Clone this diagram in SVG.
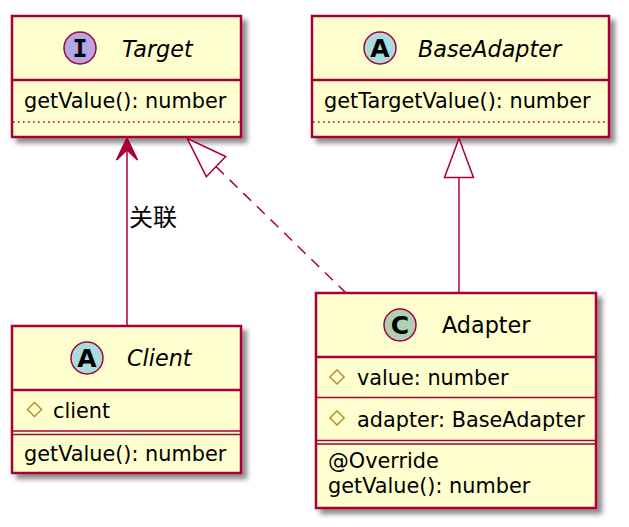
<svg xmlns="http://www.w3.org/2000/svg" width="629" height="527" viewBox="0 0 629 527">
<defs>
<filter id="sh" x="-10%" y="-10%" width="130%" height="130%">
<feGaussianBlur in="SourceAlpha" stdDeviation="2.5"/>
<feOffset dx="5" dy="5" result="b"/>
<feComponentTransfer><feFuncA type="linear" slope="0.45"/></feComponentTransfer>
<feMerge><feMergeNode/><feMergeNode in="SourceGraphic"/></feMerge>
</filter>
</defs>
<style>
.box{fill:#FEFECE;stroke:#A80036;stroke-width:2.5}
.sep{stroke:#A80036;stroke-width:2.5;fill:none}
.thin{stroke:#A80036;stroke-width:1.3;fill:none}
.dot{stroke:#A80036;stroke-width:1.6;stroke-dasharray:1.6,3.4;fill:none}
.t{font-family:"DejaVu Sans",sans-serif;font-size:20.8px;fill:#000}
.h{font-family:"DejaVu Sans",sans-serif;font-size:22.3px;fill:#000}
.i{font-style:italic}
.cl{font-family:"DejaVu Sans",sans-serif;font-size:25px;font-weight:bold;fill:#000;text-anchor:middle}
.mono{font-family:"DejaVu Sans Mono",monospace}
.circ{stroke:#A80036;stroke-width:1.5}
.dia{fill:none;stroke:#B38D22;stroke-width:1.4}
.ln{stroke:#A80036;stroke-width:1.5;fill:none}
.lbl{font-family:"Noto Sans CJK SC",sans-serif;font-size:24px;fill:#000}
</style>

<g id="Target">
<rect class="box" x="12" y="16" width="229" height="121" filter="url(#sh)"/>
<line class="sep" x1="12" y1="80" x2="241" y2="80"/>
<circle class="circ" cx="80" cy="48" r="16" fill="#B4A7E5"/>
<text class="cl mono" x="80" y="57">I</text>
<text class="h i" x="122" y="57">Target</text>
<text class="t" x="24" y="108">getValue(): number</text>
<line class="dot" x1="13" y1="122" x2="240" y2="122"/>
</g>

<g id="BaseAdapter">
<rect class="box" x="312" y="16" width="297" height="121" filter="url(#sh)"/>
<line class="sep" x1="312" y1="80" x2="609" y2="80"/>
<circle class="circ" cx="380" cy="48" r="16" fill="#A9DCDF"/>
<text class="cl" x="380" y="57">A</text>
<text class="h i" x="418" y="57">BaseAdapter</text>
<text class="t" x="324" y="108">getTargetValue(): number</text>
<line class="dot" x1="313" y1="122" x2="608" y2="122"/>
</g>

<g id="Client">
<rect class="box" x="12" y="326" width="229" height="147" filter="url(#sh)"/>
<line class="sep" x1="12" y1="390" x2="241" y2="390"/>
<circle class="circ" cx="87" cy="358" r="16" fill="#A9DCDF"/>
<text class="cl" x="87" y="367">A</text>
<text class="h i" x="127" y="366">Client</text>
<rect class="dia" x="29.5" y="404.5" width="10" height="10" transform="rotate(45 34.5 409.5)"/>
<text class="t" x="53" y="418">client</text>
<line class="thin" x1="12" y1="431" x2="241" y2="431"/>
<line class="thin" x1="12" y1="434.5" x2="241" y2="434.5"/>
<text class="t" x="24" y="461">getValue(): number</text>
</g>

<g id="Adapter">
<rect class="box" x="316" y="293" width="280" height="215" filter="url(#sh)"/>
<line class="sep" x1="316" y1="357" x2="596" y2="357"/>
<circle class="circ" cx="400" cy="325" r="16" fill="#ADD1B2"/>
<text class="cl" x="400" y="334">C</text>
<text class="h" x="442" y="333">Adapter</text>
<rect class="dia" x="332" y="372" width="10" height="10" transform="rotate(45 337 377)"/>
<text class="t" x="357" y="385">value: number</text>
<line class="thin" x1="316" y1="397.5" x2="596" y2="397.5"/>
<rect class="dia" x="332" y="413" width="10" height="10" transform="rotate(45 337 418)"/>
<text class="t" x="357" y="427">adapter: BaseAdapter</text>
<line class="thin" x1="316" y1="440.5" x2="596" y2="440.5"/>
<line class="thin" x1="316" y1="444" x2="596" y2="444"/>
<text class="t" x="328" y="468">@Override</text>
<text class="t" x="328" y="493">getValue(): number</text>
</g>

<g id="connectors">
<line class="ln" x1="127" y1="326" x2="127" y2="142"/>
<polygon points="127,138 116.5,160 127,150 137.5,160" fill="#A80036" stroke="#A80036" stroke-width="1.5"/>
<text class="lbl" x="129" y="226">关联</text>
<line class="ln" x1="216" y1="166.6" x2="346" y2="293" stroke-dasharray="11,8"/>
<polygon points="187.3,138.5 225.7,156.5 206.3,176.7" fill="#FFFFFF" stroke="#A80036" stroke-width="1.5"/>
<line class="ln" x1="459" y1="293" x2="459" y2="177.5"/>
<polygon points="459,138.5 473.5,177.5 444.5,177.5" fill="#FFFFFF" stroke="#A80036" stroke-width="1.5"/>
</g>
</svg>
